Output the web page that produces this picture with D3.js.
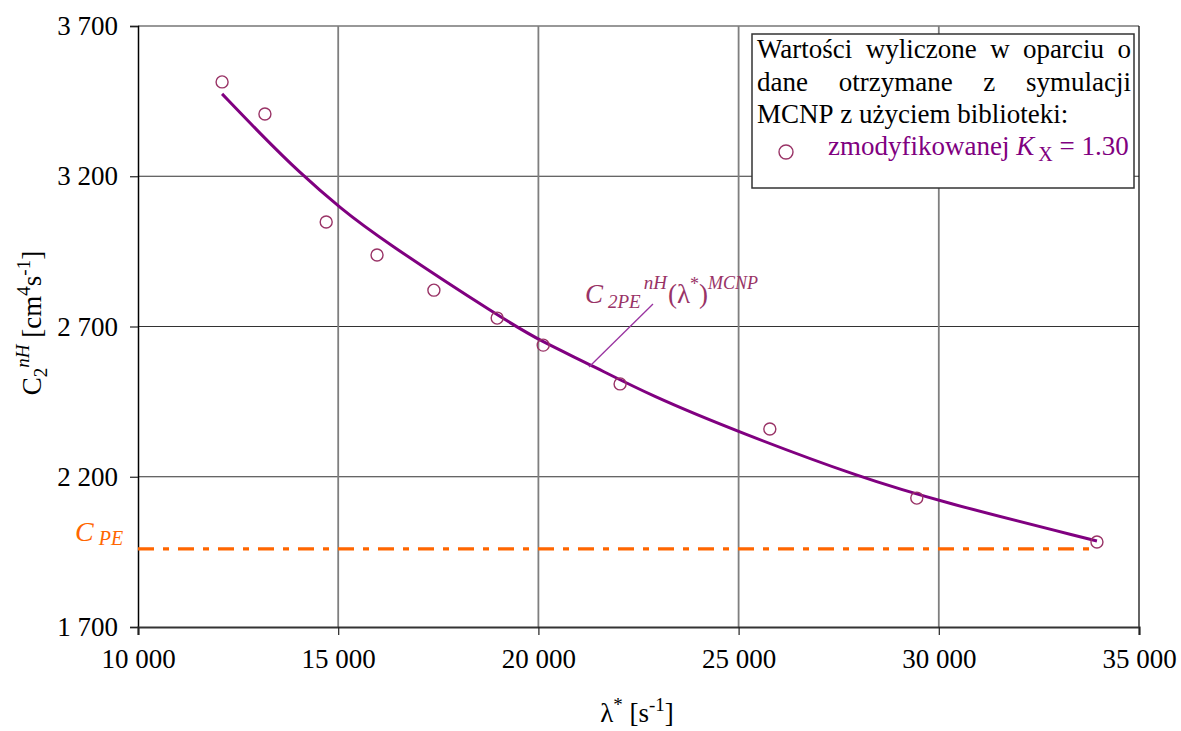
<!DOCTYPE html>
<html>
<head>
<meta charset="utf-8">
<script src="https://cdn.jsdelivr.net/npm/d3@7"></script>
<style>
  body { margin: 0; background: #fff; }
  svg, svg text { font-family: "Liberation Serif", "DejaVu Serif", serif !important; }
</style>
</head>
<body>
<svg id="chart"></svg>
<script>
const WIDTH = 1181;
const HEIGHT = 731;
const LEFT = 138;
const RIGHT = 1139;
const TOP = 26;
const BOTTOM = 627;
const SERIF = '"Liberation Serif", "DejaVu Serif", serif';

// values
const xTicks = [10000, 15000, 20000, 25000, 30000, 35000];
const yTicks = [1700, 2200, 2700, 3200, 3700];

// MCNP points (zmodyfikowanej K_X = 1.30)
const lambdaMcnp = [12100, 13170, 14700, 15970, 17390, 18970, 20120, 22040, 25780, 29450, 33950];
const c2Mcnp = [3514, 3407, 3048, 2938, 2821, 2728, 2638, 2509, 2359, 2129, 1983];

// fitted curve C_2PE^nH(lambda*)^MCNP
const fitLambda = [12100, 13050, 14050, 15050, 16050, 19100, 20050, 21300, 22800, 25050, 28050, 30050, 33950];
const fitC2 = [3474, 3342, 3210, 3094, 2992, 2726, 2652, 2573, 2470, 2346, 2197, 2117, 1986];

// C_PE level
const cPE = 1960;
const cPELambda = [10000, 33950];

const legendLines = ["Wartości wyliczone w oparciu o", "dane otrzymane z symulacji", "MCNP z użyciem biblioteki:"];

const locale = d3.formatLocale({ decimal: ",", thousands: " ", grouping: [3], currency: ["", ""] });
const fmt = locale.format(",d");

const svg = d3.select('#chart').attr('width', WIDTH).attr('height', HEIGHT)
    .attr('font-family', SERIF);

const x = d3.scaleLinear().domain([10000, 35000]).range([LEFT, RIGHT]);
const y = d3.scaleLinear().domain([1700, 3700]).range([BOTTOM, TOP]);

// grid
svg.append('g').selectAll('line').data(yTicks.slice(1)).join('line')
    .attr('x1', LEFT).attr('x2', RIGHT)
    .attr('y1', d => y(d)).attr('y2', d => y(d))
    .attr('stroke', '#333').attr('stroke-width', 1.2);

svg.append('g').selectAll('line').data(xTicks.slice(1, -1)).join('line')
    .attr('x1', d => x(d)).attr('x2', d => x(d))
    .attr('y1', TOP).attr('y2', BOTTOM)
    .attr('stroke', '#7f7f7f').attr('stroke-width', 1.8);

// right border
svg.append('line')
    .attr('x1', RIGHT).attr('x2', RIGHT).attr('y1', TOP).attr('y2', BOTTOM)
    .attr('stroke', '#111').attr('stroke-width', 1.3);

// axes
const yAxis = svg.append('g')
    .attr('transform', `translate(${LEFT},0)`)
    .call(d3.axisLeft(y).tickValues(yTicks).tickFormat(fmt).tickSize(8).tickPadding(12));
const xAxis = svg.append('g')
    .attr('transform', `translate(0,${BOTTOM})`)
    .call(d3.axisBottom(x).tickValues(xTicks).tickFormat(fmt).tickSize(8).tickPadding(14));

[yAxis, xAxis].forEach(a => {
    a.attr('font-family', SERIF).attr('font-size', 27);
    a.selectAll('text').attr('fill', '#000');
    a.selectAll('.tick line').attr('stroke', '#222').attr('stroke-width', 1.2);
});
yAxis.select('.domain').attr('stroke', '#000').attr('stroke-width', 1.5);
xAxis.select('.domain').attr('stroke', '#333').attr('stroke-width', 2.2);

// C_PE line
svg.append('line')
    .attr('x1', x(cPELambda[0])).attr('x2', x(cPELambda[1]))
    .attr('y1', y(cPE)).attr('y2', y(cPE))
    .attr('stroke', '#ff6600').attr('stroke-width', 3.2)
    .attr('stroke-dasharray', '16 9 6 9');

// fitted curve
const line = d3.line().x((d, i) => x(fitLambda[i])).y(d => y(d)).curve(d3.curveBasis);
svg.append('path')
    .attr('d', line(fitC2))
    .attr('fill', 'none').attr('stroke', '#800080').attr('stroke-width', 3);

// points
svg.append('g').selectAll('circle').data(c2Mcnp).join('circle')
    .attr('cx', (d, i) => x(lambdaMcnp[i])).attr('cy', d => y(d))
    .attr('r', 6).attr('fill', 'none')
    .attr('stroke', '#993366').attr('stroke-width', 1.4);

// annotation of the curve
svg.append('line')
    .attr('x1', 589).attr('y1', 367).attr('x2', 653).attr('y2', 304)
    .attr('stroke', '#9933a0').attr('stroke-width', 1.3);

const ann = svg.append('text').attr('x', 585).attr('y', 303)
    .attr('fill', '#993366').attr('font-size', 27);
ann.append('tspan').attr('font-style', 'italic').text('C');
ann.append('tspan').attr('font-style', 'italic').attr('font-size', 19).attr('dx', 5).attr('dy', 5).text('2PE');
ann.append('tspan').attr('font-style', 'italic').attr('font-size', 19).attr('dx', 3).attr('dy', -19).text('nH');
ann.append('tspan').attr('dx', 1).attr('dy', 14).text('(λ');
ann.append('tspan').attr('font-size', 18).attr('dy', -13).text('*');
ann.append('tspan').attr('dy', 13).text(')');
ann.append('tspan').attr('font-style', 'italic').attr('font-size', 18).attr('dy', -14).text('MCNP');

// C_PE label
const cpe = svg.append('text').attr('x', 75).attr('y', 541)
    .attr('fill', '#ff6600').attr('font-size', 28).attr('font-style', 'italic');
cpe.append('tspan').text('C');
cpe.append('tspan').attr('font-size', 20).attr('dx', 5).attr('dy', 4).text('PE');

// axis titles
const xt = svg.append('text').attr('x', 637).attr('y', 722)
    .attr('text-anchor', 'middle').attr('font-size', 27).attr('fill', '#000');
xt.append('tspan').text('λ');
xt.append('tspan').attr('font-size', 19).attr('dy', -11).text('*');
xt.append('tspan').attr('dy', 11).text(' [s');
xt.append('tspan').attr('font-size', 19).attr('dy', -11).text('-1');
xt.append('tspan').attr('dy', 11).text(']');

const yt = svg.append('text')
    .attr('transform', 'translate(41,323) rotate(-90)')
    .attr('text-anchor', 'middle').attr('font-size', 27).attr('fill', '#000');
yt.append('tspan').text('C');
yt.append('tspan').attr('font-size', 19).attr('dy', 6).text('2');
yt.append('tspan').attr('font-size', 19).attr('font-style', 'italic').attr('dy', -18).text('nH');
yt.append('tspan').attr('dy', 12).text(' [cm');
yt.append('tspan').attr('font-size', 19).attr('dy', -11).text('4');
yt.append('tspan').attr('dy', 11).text('s');
yt.append('tspan').attr('font-size', 19).attr('dy', -11).text('-1');
yt.append('tspan').attr('dy', 11).text(']');

// legend
const LX0 = 752, LX1 = 1134, LY0 = 34, LY1 = 188;
svg.append('rect')
    .attr('x', LX0).attr('y', LY0).attr('width', LX1 - LX0).attr('height', LY1 - LY0)
    .attr('fill', '#fff').attr('stroke', '#333').attr('stroke-width', 1.5);

const textL = 757, textR = 1131, legendFont = 27;
const baselines = [58, 91, 123];
legendLines.forEach((ln, li) => {
    const words = ln.split(' ');
    const g = svg.append('g');
    const nodes = words.map(w => g.append('text').attr('font-size', legendFont).attr('fill', '#000')
        .attr('y', baselines[li]).text(w));
    const widths = nodes.map(n => n.node().getComputedTextLength());
    const total = d3.sum(widths);
    const gap = li < 2 ? (textR - textL - total) / (words.length - 1) : legendFont * 0.25;
    let cx = textL;
    nodes.forEach((n, i) => { n.attr('x', cx); cx += widths[i] + gap; });
});

svg.append('circle').attr('cx', 786).attr('cy', 152).attr('r', 7)
    .attr('fill', '#fff').attr('stroke', '#993366').attr('stroke-width', 1.4);
const lg = svg.append('text').attr('x', 828).attr('y', 155)
    .attr('font-size', legendFont).attr('fill', '#800080');
lg.append('tspan').text('zmodyfikowanej ');
lg.append('tspan').attr('font-style', 'italic').text('K');
lg.append('tspan').attr('font-size', 20).attr('dx', 4).attr('dy', 6).text('X');
lg.append('tspan').attr('dy', -6).text(' = 1.30');
</script>
</body>
</html>
